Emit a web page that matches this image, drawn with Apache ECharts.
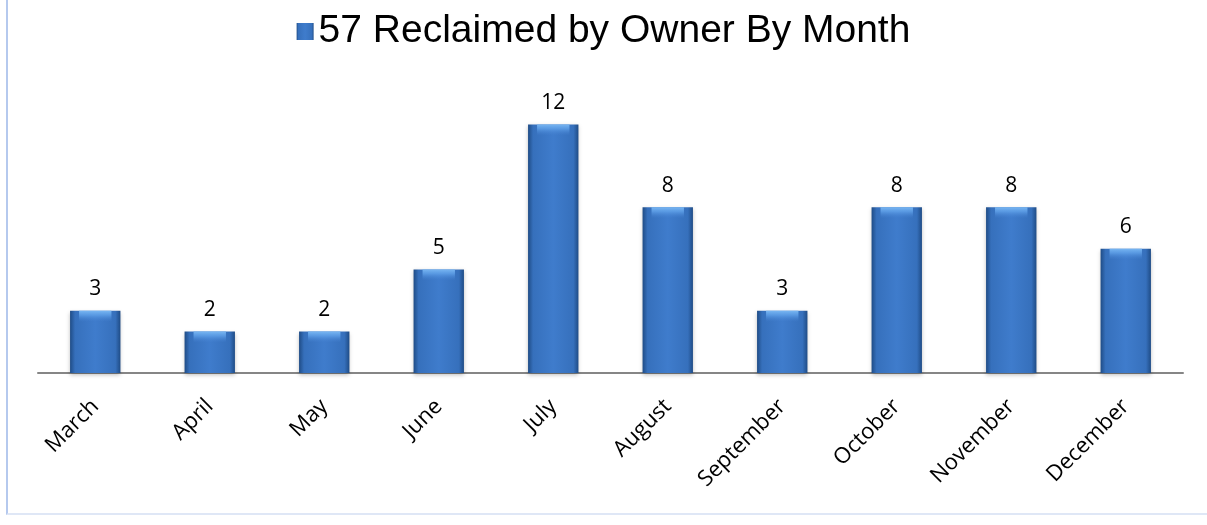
<!DOCTYPE html>
<html>
<head>
<meta charset="utf-8">
<script src="https://cdn.jsdelivr.net/npm/echarts@6/dist/echarts.min.js"></script>
<style>
html,body{margin:0;padding:0;background:#fff;}
#frame{position:absolute;left:6px;top:-2px;width:1220px;height:517px;border-left:2px solid #b5c9ee;border-bottom:2px solid #dfe7f6;box-sizing:border-box;}
#chart{position:absolute;left:0;top:0;width:1207px;height:525px;}
</style>
</head>
<body>
<div id="frame"></div>
<div id="chart"></div>
<script>
const seriesName = '57 Reclaimed by Owner By Month';
const months = ['March','April','May','June','July','August','September','October','November','December'];
const reclaimed = [3, 2, 2, 5, 12, 8, 3, 8, 8, 6];

const chart = echarts.init(document.getElementById('chart'));
const barColor = new echarts.graphic.LinearGradient(0, 0, 1, 0, [
  {offset: 0, color: '#1f4c86'},
  {offset: 0.1, color: '#3670bc'},
  {offset: 0.5, color: '#3f7ccc'},
  {offset: 0.9, color: '#3670bc'},
  {offset: 1, color: '#1f4c86'}
]);
const bevelColor = new echarts.graphic.LinearGradient(0, 0, 0, 1, [
  {offset: 0, color: 'rgba(120,182,242,1)'},
  {offset: 0.4, color: 'rgba(95,160,232,0.8)'},
  {offset: 1, color: 'rgba(70,130,210,0)'}
]);
chart.setOption({
  animation: false,
  legend: {
    top: 7,
    left: 'center',
    itemWidth: 17,
    itemHeight: 17,
    itemGap: 6,
    icon: 'rect',
    textStyle: {fontFamily: 'Liberation Sans', fontSize: 39, color: '#000'},
    data: [seriesName]
  },
  grid: {left: 38, right: 24, top: 83, bottom: 152},
  xAxis: {
    type: 'category',
    data: months,
    axisLine: {lineStyle: {color: '#868686', width: 2}},
    axisTick: {show: false},
    axisLabel: {rotate: 45, margin: 30, fontFamily: 'Open Sans', fontSize: 22, color: '#000'}
  },
  yAxis: {
    type: 'value',
    min: 0, max: 14,
    show: false
  },
  series: [{
    name: seriesName,
    type: 'bar',
    data: reclaimed,
    barWidth: '44%',
    itemStyle: {
      color: barColor,
      shadowColor: 'rgba(0,0,0,0.25)',
      shadowBlur: 4,
      shadowOffsetY: 2
    },
    label: {
      show: true,
      position: 'top',
      distance: 11,
      fontFamily: 'Open Sans',
      fontSize: 21,
      color: '#000'
    }
  }, {
    name: 'bevel',
    type: 'pictorialBar',
    data: reclaimed,
    symbol: 'rect',
    symbolPosition: 'end',
    symbolSize: ['41%', 11],
    itemStyle: {color: bevelColor},
    silent: true,
    z: 3
  }]
});
</script>
</body>
</html>
